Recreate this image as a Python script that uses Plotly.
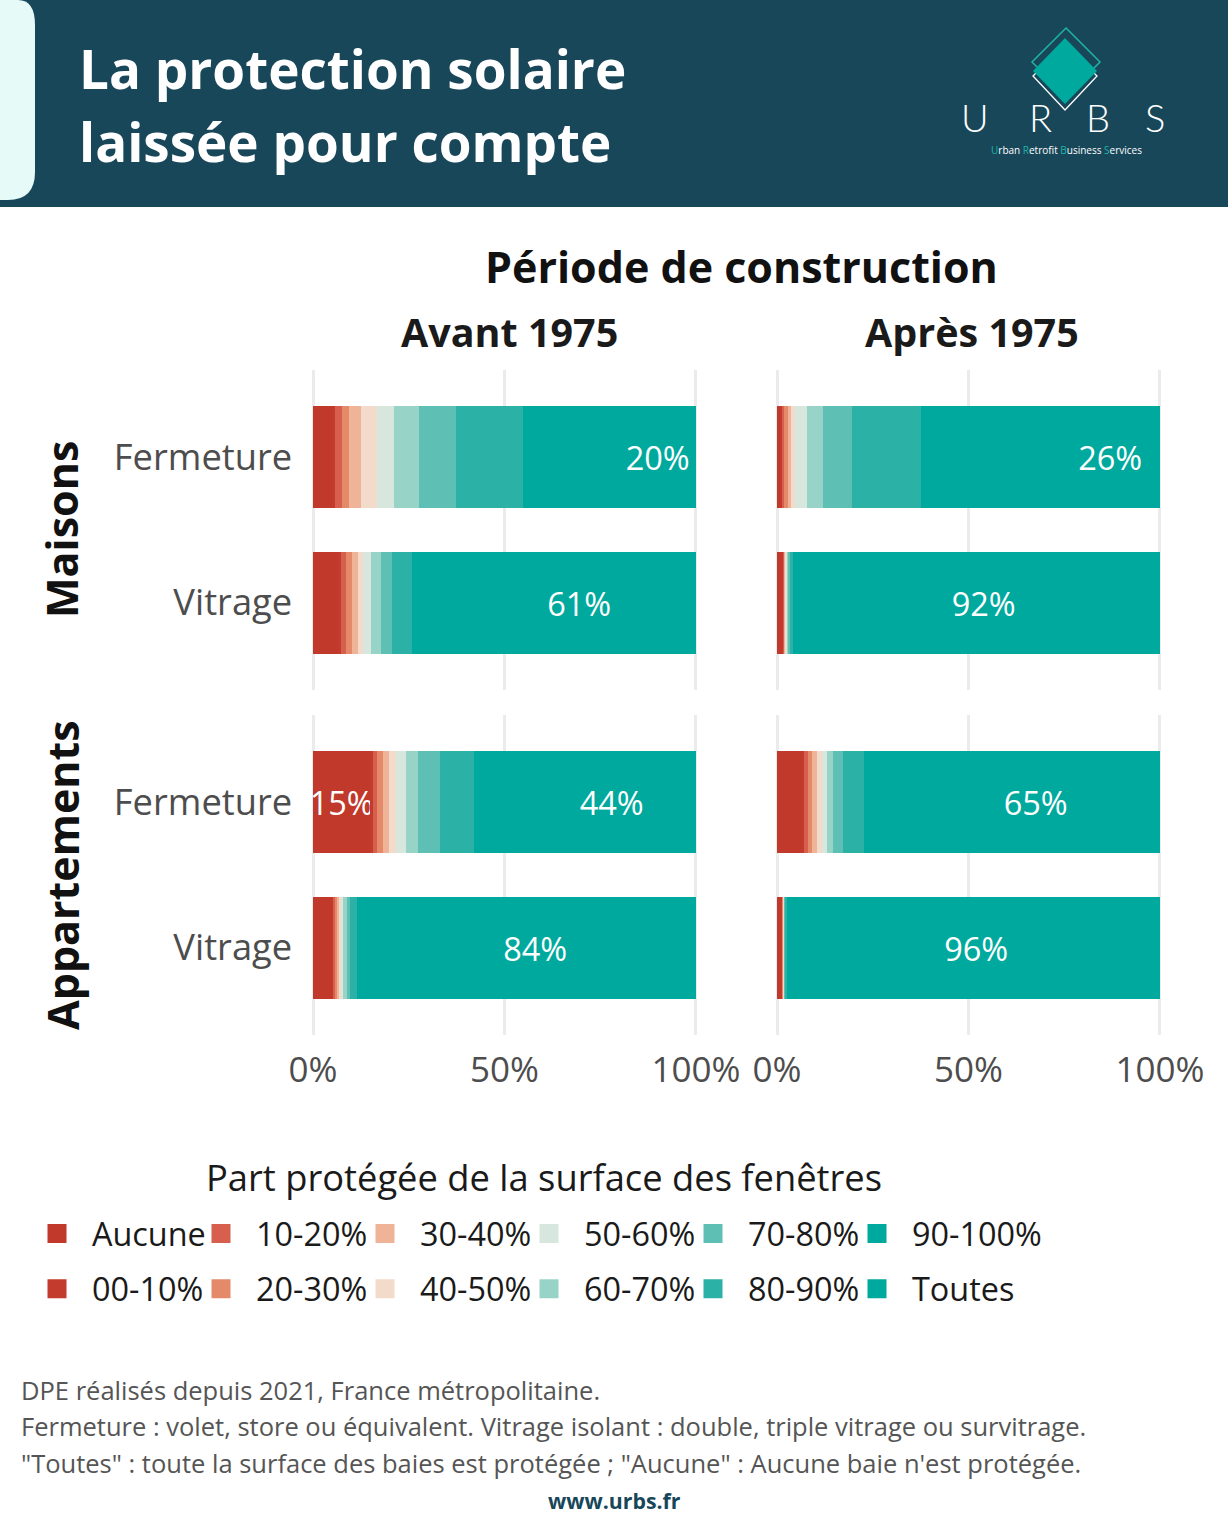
import plotly.graph_objects as go

W, H = 1228, 1536
FONT = "Open Sans"

# ---------------- data ----------------
categories = ["Aucune", "00-10%", "10-20%", "20-30%", "30-40%", "40-50%",
              "50-60%", "60-70%", "70-80%", "80-90%", "90-100%", "Toutes"]
colors = ["#c0392b", "#c33b2d", "#d6604d", "#e48a6b", "#efb398", "#f3dbcb",
          "#d7e7dd", "#98d3c8", "#5ec0b5", "#2cb1a6", "#00a99d", "#00a99d"]
bar_rows = ["Fermeture", "Vitrage"]
periods = ["Avant 1975", "Après 1975"]
housing = ["Maisons", "Appartements"]
x_ticks = [0, 50, 100]
x_tick_labels = ["0%", "50%", "100%"]

maisons_avant_fermeture = [4.9, 0.8, 1.8, 2.0, 3.2, 4.1, 4.5, 6.4, 9.8, 17.4, 25.1, 20]
maisons_avant_vitrage = [6.6, 0.8, 1.3, 1.6, 1.5, 1.3, 2.2, 2.5, 2.8, 5.2, 13.2, 61]
maisons_apres_fermeture = [1.0, 0.3, 0.7, 0.9, 0.9, 1.0, 3.1, 4.1, 7.7, 17.9, 36.4, 26]
maisons_apres_vitrage = [1.4, 0.3, 0.2, 0.2, 0.2, 0.2, 0.2, 0.3, 0.4, 0.8, 3.8, 92]
appart_avant_fermeture = [15.0, 0.8, 1.0, 1.4, 1.7, 1.9, 2.6, 3.0, 5.7, 9.1, 13.8, 44]
appart_avant_vitrage = [5.1, 0.4, 0.4, 0.5, 0.5, 0.5, 0.6, 0.8, 1.0, 1.7, 4.5, 84]
appart_apres_fermeture = [6.3, 0.7, 1.1, 1.0, 1.3, 1.3, 1.3, 1.7, 2.6, 5.5, 12.2, 65]
appart_apres_vitrage = [1.3, 0.2, 0.1, 0.1, 0.1, 0.1, 0.1, 0.1, 0.2, 0.3, 1.4, 96]

# (row, col) -> (fermeture, vitrage)
panels = {
    (0, 0): (maisons_avant_fermeture, maisons_avant_vitrage),
    (0, 1): (maisons_apres_fermeture, maisons_apres_vitrage),
    (1, 0): (appart_avant_fermeture, appart_avant_vitrage),
    (1, 1): (appart_apres_fermeture, appart_apres_vitrage),
}


def px(x):
    return x / W


def py(y):
    return 1 - y / H


xdom = [[px(309.2), px(699.8)], [px(773.2), px(1163.8)]]
ydom = [[py(690), py(370)], [py(1035), py(715)]]

fig = go.Figure()
layout_axes = {}

for (r, c), (ferm, vit) in panels.items():
    k = r * 2 + c + 1
    xs = "" if k == 1 else str(k)
    for i, cat in enumerate(categories):
        vals = [ferm[i], vit[i]]
        texts = []
        for v in vals:
            if cat in ("Aucune", "Toutes") and v >= 10:
                texts.append(f"{round(v)}%")
            else:
                texts.append("")
        fig.add_trace(go.Bar(
            x=vals, y=bar_rows, orientation="h",
            name=cat, legendgroup=cat, showlegend=False,
            marker=dict(color=colors[i], line=dict(width=0)),
            width=0.7,
            text=texts, textposition="inside", insidetextanchor="middle",
            textangle=0, constraintext="none",
            textfont=dict(family=FONT, size=32.5, color="white"),
            xaxis="x" + xs, yaxis="y" + xs,
            hoverinfo="skip",
        ))
    layout_axes["xaxis" + xs] = dict(
        domain=xdom[c], anchor="y" + xs, range=[-1, 101],
        tickvals=x_ticks, ticktext=x_tick_labels,
        showticklabels=(r == 1), ticks="",
        tickfont=dict(family=FONT, size=35, color="#4d4d4d"),
        ticklabelstandoff=11, automargin=False,
        showgrid=True, gridcolor="#ebebeb", gridwidth=3,
        zeroline=False, showline=False, fixedrange=True,
    )
    layout_axes["yaxis" + xs] = dict(
        domain=ydom[r], anchor="x" + xs, type="category",
        categoryorder="array", categoryarray=bar_rows[::-1],
        range=[-0.6, 1.6], showticklabels=(c == 0), ticks="",
        tickfont=dict(family=FONT, size=36.3, color="#4d4d4d"),
        ticklabelstandoff=16, automargin=False,
        showgrid=False, zeroline=False, showline=False, fixedrange=True,
    )

# legend keys (one entry per category, no data of their own)
for i, cat in enumerate(categories):
    lg = i // 2
    fig.add_trace(go.Scatter(
        x=[None], y=[None], mode="markers", name=cat, legendgroup=cat,
        legend="legend" if lg == 0 else f"legend{lg + 1}",
        marker=dict(symbol="square", size=16, color=colors[i],
                    line=dict(width=3, color=colors[i])),
        xaxis="x", yaxis="y", hoverinfo="skip", showlegend=True,
    ))

fig.update_layout(**layout_axes)

# ---------------- header ----------------
shapes = [
    dict(type="rect", xref="paper", yref="paper", x0=0, x1=1, y0=py(207), y1=1,
         fillcolor="#18475a", line=dict(width=0), layer="below"),
]


def path_px(points, close=True):
    s = ""
    for cmd, pts in points:
        if cmd == "Q":
            s += "Q" + " ".join(f"{px(a):.5f},{py(b):.5f}" for a, b in pts) + " "
        else:
            for a, b in pts:
                s += f"{cmd}{px(a):.5f},{py(b):.5f} "
    return s + ("Z" if close else "")


shapes.append(dict(
    type="path", xref="paper", yref="paper",
    path=path_px([("M", [(0, 0)]), ("L", [(18, 0)]), ("Q", [(35, 0), (35, 25)]),
                  ("L", [(35, 172)]), ("Q", [(35, 200), (8, 200)]), ("L", [(0, 200)])]),
    fillcolor="#e6fbf8", line=dict(width=0),
))
# logo diamonds
shapes.append(dict(
    type="path", xref="paper", yref="paper",
    path=path_px([("M", [(1066, 28)]), ("L", [(1100, 62), (1066, 96), (1032, 62)])]),
    fillcolor="rgba(0,0,0,0)", line=dict(color="#1fb3a6", width=1.5),
))
shapes.append(dict(
    type="path", xref="paper", yref="paper",
    path=path_px([("M", [(1065, 44)]), ("L", [(1097, 76), (1065, 110), (1033, 76)])]),
    fillcolor="rgba(0,0,0,0)", line=dict(color="#ffffff", width=1.3),
))
shapes.append(dict(
    type="path", xref="paper", yref="paper",
    path=path_px([("M", [(1065, 38)]), ("L", [(1097, 71), (1065, 104), (1033, 71)])]),
    fillcolor="#00a99d", line=dict(width=0),
))

annotations = [
    dict(text="La protection solaire", x=px(77), y=py(68), xanchor="left", yanchor="middle",
         font=dict(family=FONT, size=53, color="white", weight=700)),
    dict(text="laissée pour compte", x=px(77), y=py(141), xanchor="left", yanchor="middle",
         font=dict(family=FONT, size=53, color="white", weight=700)),
]
for letter, lx in zip(["U", "R", "B", "S"], [975, 1040, 1098, 1155]):
    annotations.append(dict(text=letter, x=px(lx), y=py(117), xanchor="center", yanchor="middle",
                            font=dict(family="Lato", size=38, color="white", weight=300)))
tc = "#1fb3a6"
annotations.append(dict(
    text=(f"<span style='color:{tc}'>U</span>rban <span style='color:{tc}'>R</span>etrofit "
          f"<span style='color:{tc}'>B</span>usiness <span style='color:{tc}'>S</span>ervices"),
    x=px(1066), y=py(150), xanchor="center", yanchor="middle",
    font=dict(family=FONT, size=10, color="white")))

# ---------------- chart titles ----------------
annotations += [
    dict(text="Période de construction", x=px(741), y=py(266), xanchor="center", yanchor="middle",
         font=dict(family=FONT, size=43, color="#111111", weight=700)),
]
for c, label, cx in zip(range(2), periods, [509, 972]):
    annotations.append(dict(text=label, x=px(cx), y=py(332),
                            xanchor="center", yanchor="middle",
                            font=dict(family=FONT, size=39.5, color="#1a1a1a", weight=700)))
for r, label in enumerate(housing):
    annotations.append(dict(text=label, x=px(62), y=(ydom[r][0] + ydom[r][1]) / 2,
                            xanchor="center", yanchor="middle", textangle=-90,
                            font=dict(family=FONT, size=43, color="#111111", weight=700)))

annotations.append(dict(text="Part protégée de la surface des fenêtres", x=px(544), y=py(1177),
                        xanchor="center", yanchor="middle",
                        font=dict(family=FONT, size=36.3, color="#1a1a1a")))

captions = ["DPE réalisés depuis 2021, France métropolitaine.",
            "Fermeture : volet, store ou équivalent. Vitrage isolant : double, triple vitrage ou survitrage.",
            "\"Toutes\" : toute la surface des baies est protégée ; \"Aucune\" : Aucune baie n'est protégée."]
for t, yy in zip(captions, [1390, 1426, 1463]):
    annotations.append(dict(text=t, x=px(19), y=py(yy), xanchor="left", yanchor="middle",
                            font=dict(family=FONT, size=25.5, color="#555555")))
annotations.append(dict(text="www.urbs.fr", x=px(614), y=py(1500), xanchor="center", yanchor="middle",
                        font=dict(family=FONT, size=21.3, color="#18475a", weight=700)))

for a in annotations:
    a.setdefault("xref", "paper")
    a.setdefault("yref", "paper")
    a.setdefault("showarrow", False)

legends = {}
for j in range(6):
    key = "legend" if j == 0 else f"legend{j + 1}"
    legends[key] = dict(
        orientation="v", xanchor="left", yanchor="top",
        x=px(22 + 164 * j), y=py(1206),
        font=dict(family=FONT, size=32.4, color="#1a1a1a"),
        bgcolor="rgba(0,0,0,0)", traceorder="grouped", tracegroupgap=10,
        itemwidth=60, itemclick=False, itemdoubleclick=False,
    )

fig.update_layout(
    width=W, height=H, autosize=False,
    margin=dict(l=0, r=0, t=0, b=0, autoexpand=False),
    paper_bgcolor="white", plot_bgcolor="white",
    barmode="stack", bargap=0,
    font=dict(family=FONT),
    shapes=shapes, annotations=annotations,
    showlegend=True,
    **legends,
)

fig.write_html("out.html", config={"displayModeBar": False})
